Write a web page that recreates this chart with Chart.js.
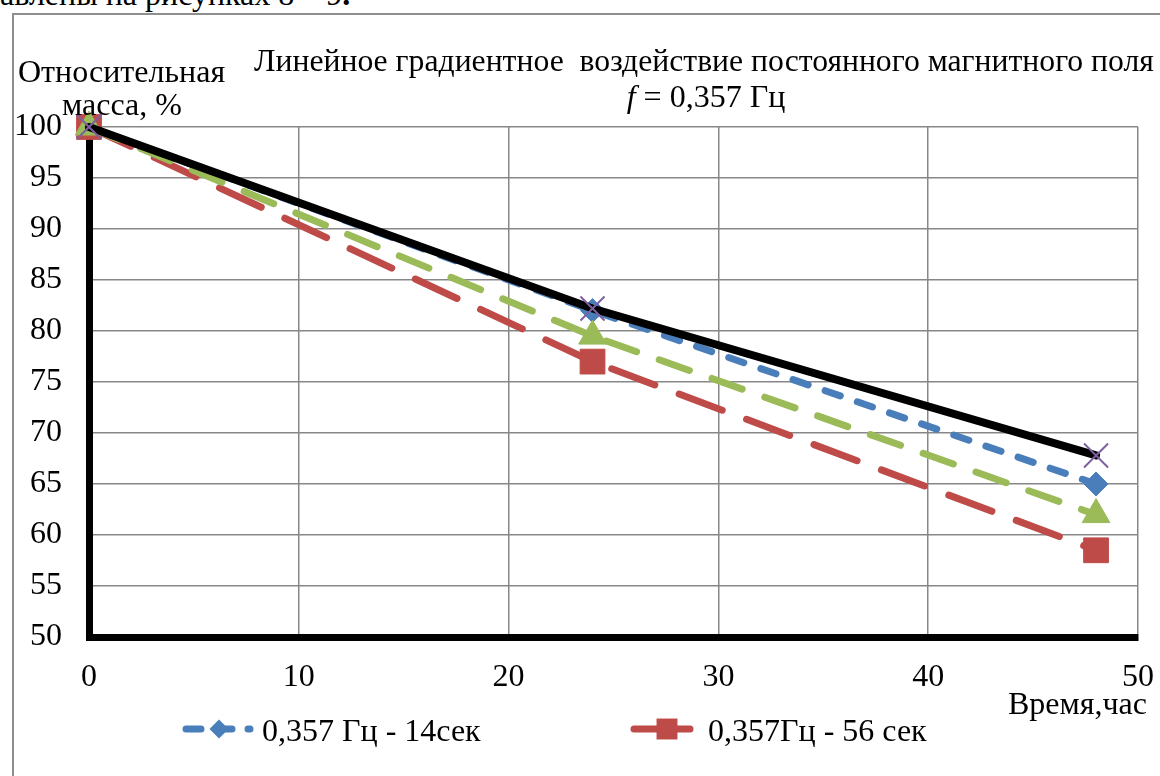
<!DOCTYPE html>
<html lang="ru">
<head>
<meta charset="utf-8">
<script src="https://cdn.jsdelivr.net/npm/chart.js@4.4.1/dist/chart.umd.min.js"></script>
<style>
body{margin:0;background:#fff;}
#hoja{position:relative;width:1160px;height:776px;overflow:hidden;font-family:"Liberation Serif","Times New Roman",serif;color:#000;}
#grafica{position:absolute;left:0;top:0;}
#marco{position:absolute;left:12px;top:13px;width:1200px;height:800px;border-left:2px solid #8e8e8e;border-top:2px solid #8e8e8e;}
.txt{position:absolute;font-size:32px;line-height:32px;white-space:pre;}
</style>
</head>
<body>
<div id="hoja">
    <div class="txt" style="left:0;top:-22px">авлены на рисунках 8 – 9<b>.</b></div>
    <div id="marco"></div>
    <canvas id="grafica" width="1160" height="776"></canvas>
    <div class="txt" style="left:18px;top:55px">Относительная</div>
    <div class="txt" style="left:62px;top:88px">масса, %</div>
    <div class="txt" style="left:254px;top:45px;font-size:31.7px">Линейное градиентное  воздействие постоянного магнитного поля</div>
    <div class="txt" style="left:606px;top:80px;width:200px;text-align:center"><i>f</i> = 0,357 Гц</div>
    <div class="txt" style="left:1008px;top:687px">Время,час</div>
</div>
<script>
// время, часы
const horas=[0,24,48];
// относительная масса, %
const serie14=[100,82,65];
const serie56=[100,77,58.5];
const serie3=[100,79.5,62];
const serie4=[100,82.2,67.8];

const ticksX=[0,10,20,30,40,50];
const ticksY=[50,55,60,65,70,75,80,85,90,95,100];

function puntos(valores){
    return horas.map((h,i)=>({x:h,y:valores[i]}));
}

// легенда: только две первые серии
const entradasLeyenda=[
    {ds:0,x1:186,x2:250,mx:219,r:9.5,dash:[15,16],tx:262,texto:"0,357 Гц - 14сек"},
    {ds:1,x1:634,x2:690,mx:667,r:14.8,dash:[],tx:708,texto:"0,357Гц - 56 сек"}
];

function marcador(ctx,tipo,x,y,r,color){
    ctx.fillStyle=color;
    ctx.beginPath();
    if(tipo==="rectRot"){
        ctx.moveTo(x,y-r);ctx.lineTo(x+r,y);ctx.lineTo(x,y+r);ctx.lineTo(x-r,y);
    }else{
        let s=r*Math.SQRT1_2;
        ctx.rect(x-s,y-s,2*s,2*s);
    }
    ctx.closePath();
    ctx.fill();
}

const leyenda={
    id:"leyenda",
    afterDraw(chart){
        const ctx=chart.ctx;
        entradasLeyenda.forEach(e=>{
            const ds=chart.data.datasets[e.ds];
            ctx.save();
            ctx.strokeStyle=ds.borderColor;
            ctx.lineWidth=7;
            ctx.lineCap="round";
            ctx.setLineDash(e.dash);
            ctx.beginPath();
            ctx.moveTo(e.x1,729);
            ctx.lineTo(e.x2,729);
            ctx.stroke();
            ctx.setLineDash([]);
            marcador(ctx,ds.pointStyle,e.mx,729,e.r,ds.pointBackgroundColor);
            ctx.fillStyle="#000";
            ctx.font='32px "Liberation Serif"';
            ctx.textBaseline="alphabetic";
            ctx.fillText(e.texto,e.tx,741);
            ctx.restore();
        });
    }
};

const fuente={family:"Liberation Serif",size:32};

new Chart(document.getElementById("grafica"),{
    type:"line",
    data:{
        datasets:[
            {label:"0,357 Гц - 14сек",data:puntos(serie14),borderColor:"#4a7ebb",borderDash:[16,18],
             pointStyle:"rectRot",pointRadius:12,pointBackgroundColor:"#4a7ebb",pointBorderColor:"#4a7ebb",order:3},
            {label:"0,357Гц - 56 сек",data:puntos(serie56),borderColor:"#be4b48",borderDash:[46,26],
             pointStyle:"rect",pointRadius:17.5,pointBackgroundColor:"#be4b48",pointBorderColor:"#be4b48",order:2},
            {label:"ряд 3",data:puntos(serie3),borderColor:"#9bbb59",borderDash:[32,24],
             pointStyle:"triangle",pointRadius:16,pointBackgroundColor:"#9bbb59",pointBorderColor:"#9bbb59",order:1},
            {label:"ряд 4",data:puntos(serie4),borderColor:"#000",borderDash:[],borderWidth:8,
             pointStyle:"crossRot",pointRadius:17,pointBackgroundColor:"#7d60a0",pointBorderColor:"#7d60a0",pointBorderWidth:2,order:0}
        ]
    },
    options:{
        responsive:false,
        animation:false,
        clip:false,
        layout:{padding:{left:0,right:22,top:127,bottom:79}},
        elements:{
            line:{borderWidth:7,tension:0,borderCapStyle:"round",fill:false},
            point:{borderWidth:1}
        },
        plugins:{legend:{display:false},tooltip:{enabled:false}},
        scales:{
            x:{
                type:"linear",min:0,max:50,
                afterBuildTicks:a=>{a.ticks=ticksX.map(v=>({value:v}));},
                afterFit:a=>{a.height=60;a.paddingLeft=0;a.paddingRight=0;},
                grid:{color:"#878787",lineWidth:1.5,drawTicks:false},
                border:{color:"#000",width:7},
                ticks:{font:fuente,color:"#000",padding:21,maxRotation:0,autoSkip:false}
            },
            y:{
                min:50,max:100,
                afterBuildTicks:a=>{a.ticks=ticksY.map(v=>({value:v}));},
                afterFit:a=>{a.width=89;a.paddingTop=0;a.paddingBottom=0;},
                grid:{color:"#878787",lineWidth:1.5,drawTicks:false},
                border:{color:"#000",width:7},
                ticks:{font:fuente,color:"#000",padding:27,autoSkip:false}
            }
        }
    },
    plugins:[leyenda]
});
</script>
</body>
</html>
